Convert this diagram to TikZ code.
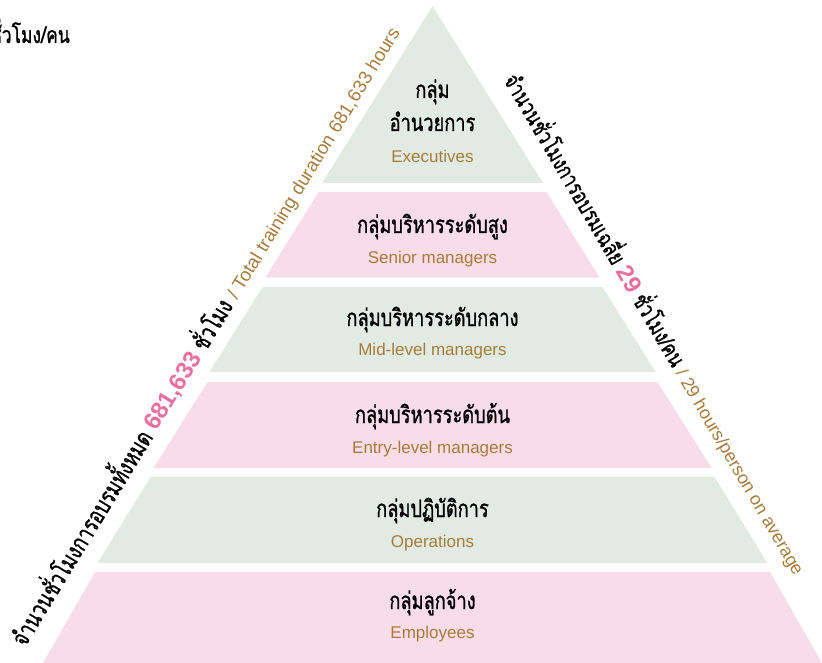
\documentclass[tikz,border=0pt]{standalone}
\usepackage{fontspec}
\setmainfont{Liberation Sans}
\newfontfamily\thaifont[Script=Thai,FakeStretch=0.76,FakeBold=1]{Loma}
\newfontfamily\engfont{Liberation Sans}
\definecolor{layergreen}{HTML}{E2EBE3}
\definecolor{layerpink}{HTML}{F8DCE8}
\definecolor{engbrown}{HTML}{A67C3D}
\definecolor{numpink}{HTML}{E8709F}
\begin{document}
\begin{tikzpicture}[x=1pt,y=-1pt,
  thlabel/.style={font=\thaifont\fontsize{24}{26}\selectfont, text=black, inner sep=0pt, anchor=base},
  enlabel/.style={font=\engfont\fontsize{17}{19}\selectfont, text=engbrown, inner sep=0pt, anchor=base},
  sidetext/.style={font=\thaifont\fontsize{23}{25}\selectfont, text=black, inner sep=0pt},
  greenlayer/.style={fill=layergreen, draw=none},
  pinklayer/.style={fill=layerpink, draw=none}]
\useasboundingbox (0,0) rectangle (822,663);
\def\cx{432.5}
% pyramid layers: top y, top half-width, bottom y, bottom half-width
\fill[greenlayer] (\cx,6) -- (\cx+110.5,183) -- (\cx-110.5,183) -- cycle;
\fill[pinklayer]  (\cx-114,192) -- (\cx+114,192) -- (\cx+167,277.5) -- (\cx-167,277.5) -- cycle;
\fill[greenlayer] (\cx-170,287) -- (\cx+170,287) -- (\cx+223,372) -- (\cx-223,372) -- cycle;
\fill[pinklayer]  (\cx-225,382) -- (\cx+225,382) -- (\cx+279,468) -- (\cx-279,468) -- cycle;
\fill[greenlayer] (\cx-282,477) -- (\cx+282,477) -- (\cx+335,563) -- (\cx-335,563) -- cycle;
\fill[pinklayer]  (\cx-337.5,572) -- (\cx+337.5,572) -- (\cx+389.5,663) -- (\cx-389.5,663) -- cycle;

% layer labels
\node[thlabel] (exec-a) at (\cx,98) {กลุ่ม};
\node[thlabel] (exec-b) at (\cx,131) {อำนวยการ};
\node[enlabel] (exec-en) at (\cx,163) {Executives};
\node[thlabel] (senior-th) at (\cx,233) {กลุ่มบริหารระดับสูง};
\node[enlabel] (senior-en) at (\cx,263) {Senior managers};
\node[thlabel] (mid-th) at (\cx,326) {กลุ่มบริหารระดับกลาง};
\node[enlabel] (mid-en) at (\cx,355) {Mid-level managers};
\node[thlabel] (entry-th) at (\cx,423) {กลุ่มบริหารระดับต้น};
\node[enlabel] (entry-en) at (\cx,453) {Entry-level managers};
\node[thlabel] (ops-th) at (\cx,517) {กลุ่มปฏิบัติการ};
\node[enlabel] (ops-en) at (\cx,547) {Operations};
\node[thlabel] (emp-th) at (\cx,609) {กลุ่มลูกจ้าง};
\node[enlabel] (emp-en) at (\cx,638) {Employees};

% side captions along the pyramid edges
\node[sidetext, font=\thaifont\fontsize{24.5}{26}\selectfont, anchor=base west, rotate=58.6] (total) at (25,648)
  {จำนวนชั่วโมงการอบรมทั้งหมด {\engfont\bfseries\fontsize{24}{26}\selectfont\color{numpink}681,633} ชั่วโมง {\engfont\fontsize{18.7}{20}\selectfont\color{engbrown}/ Total training duration 681,633 hours}};
\node[sidetext, anchor=base west, rotate=-59.6] (average) at (503,80)
  {จำนวนชั่วโมงการอบรมเฉลี่ย {\engfont\bfseries\fontsize{24}{26}\selectfont\color{numpink}29} ชั่วโมง/คน {\engfont\fontsize{18}{20}\selectfont\color{engbrown}/ 29 hours/person on average}};

% unit fragment at the top-left corner
\node[sidetext, anchor=base east] (unit) at (70,43) {ชั่วโมง/คน};
\end{tikzpicture}
\end{document}
